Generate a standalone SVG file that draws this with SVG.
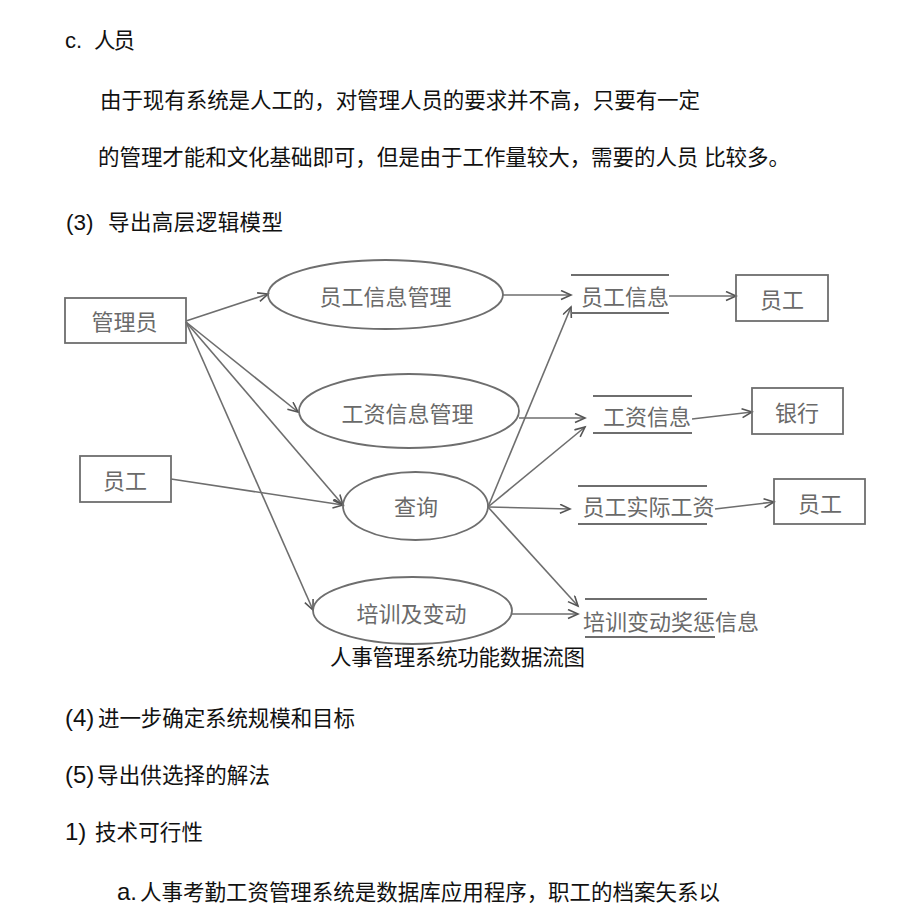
<svg xmlns="http://www.w3.org/2000/svg" width="920" height="920" viewBox="0 0 920 920">
<style>
.body{font-family:"Liberation Sans","Noto Sans CJK SC",sans-serif;font-size:21.5px;fill:#111;}
.lat{font-family:"Liberation Sans",sans-serif;font-size:24px;fill:#111;}
.lbl{font-family:"Noto Sans CJK SC","Noto Sans CJK JP",sans-serif;font-size:22px;fill:#6a6a6a;text-anchor:middle;dominant-baseline:central;}
.shape{fill:none;stroke:#6e6e6e;stroke-width:1.8;}
.store{stroke:#6e6e6e;stroke-width:1.8;}
.conn{fill:none;stroke:#6e6e6e;stroke-width:1.6;}
</style>
<defs>
<marker id="arr" markerUnits="userSpaceOnUse" markerWidth="14" markerHeight="12" refX="11" refY="5" orient="auto">
<path d="M1,0.5 L11,5 L1,9.5" fill="none" stroke="#555" stroke-width="1.6"/>
</marker>
</defs>
<rect width="920" height="920" fill="#fff"/>
<g id="text-body">
<text class="lat" x="65" y="48" style="font-size:22px">c.</text>
<text class="body" x="94" y="48" textLength="41">人员</text>
<text class="body" x="100" y="108" textLength="600">由于现有系统是人工的，对管理人员的要求并不高，只要有一定</text>
<text class="body" x="98" y="165" textLength="692">的管理才能和文化基础即可，但是由于工作量较大，需要的人员 比较多。</text>
<text class="lat" x="66" y="230" style="font-size:22.5px">(3)</text>
<text class="body" x="108" y="230" textLength="175">导出高层逻辑模型</text>
<text class="body" x="330" y="665" textLength="255">人事管理系统功能数据流图</text>
<text class="lat" x="65" y="726">(4)</text>
<text class="body" x="98" y="726" textLength="257">进一步确定系统规模和目标</text>
<text class="lat" x="65" y="783">(5)</text>
<text class="body" x="97" y="783" textLength="173">导出供选择的解法</text>
<text class="lat" x="65" y="840">1)</text>
<text class="body" x="95" y="840" textLength="108">技术可行性</text>
<text class="lat" x="117" y="900">a.</text>
<text class="body" x="140" y="900" textLength="580">人事考勤工资管理系统是数据库应用程序，职工的档案矢系以</text>
</g>
<g id="connectors">
<path class="conn" marker-end="url(#arr)" d="M186,321 L268,294"/>
<path class="conn" marker-end="url(#arr)" d="M186,322 L298,412"/>
<path class="conn" marker-end="url(#arr)" d="M186,322 L343,505"/>
<path class="conn" marker-end="url(#arr)" d="M186,322 L313,610"/>
<path class="conn" marker-end="url(#arr)" d="M171,479 L343,505"/>
<path class="conn" marker-end="url(#arr)" d="M503,295 L571,295"/>
<path class="conn" marker-end="url(#arr)" d="M488,507 L571,307"/>
<path class="conn" marker-end="url(#arr)" d="M519,418 L585,418"/>
<path class="conn" marker-end="url(#arr)" d="M488,507 L585,427"/>
<path class="conn" marker-end="url(#arr)" d="M488,507 L570,509"/>
<path class="conn" marker-end="url(#arr)" d="M488,507 L578,606"/>
<path class="conn" marker-end="url(#arr)" d="M512,614 L578,614"/>
<path class="conn" marker-end="url(#arr)" d="M669,296 L736,296"/>
<path class="conn" marker-end="url(#arr)" d="M692,419 L752,412"/>
<path class="conn" marker-end="url(#arr)" d="M715,509 L774,502"/>
</g>
<g id="n-admin"><rect class="shape" x="65" y="298" width="121" height="45"/><text class="lbl" x="124.5" y="320">管理员</text></g>
<g id="n-staff-left"><rect class="shape" x="80" y="456" width="91" height="46"/><text class="lbl" x="125" y="479">员工</text></g>
<g id="p-staffinfo"><ellipse class="shape" cx="385.5" cy="294.5" rx="117.5" ry="34.5"/><text class="lbl" x="385.5" y="295">员工信息管理</text></g>
<g id="p-salary"><ellipse class="shape" cx="409" cy="411" rx="110" ry="37"/><text class="lbl" x="407.5" y="412">工资信息管理</text></g>
<g id="p-query"><ellipse class="shape" cx="415.5" cy="506" rx="72.5" ry="34"/><text class="lbl" x="416" y="505">查询</text></g>
<g id="p-training"><ellipse class="shape" cx="412.5" cy="610.5" rx="99.5" ry="33.5"/><text class="lbl" x="411.5" y="612">培训及变动</text></g>
<g id="d-staffinfo"><line class="store" x1="571" y1="275" x2="669" y2="275"/><line class="store" x1="571" y1="313" x2="669" y2="313"/><text class="lbl" x="625" y="295">员工信息</text></g>
<g id="d-salary"><line class="store" x1="593" y1="396" x2="692" y2="396"/><line class="store" x1="593" y1="433" x2="692" y2="433"/><text class="lbl" x="647" y="415">工资信息</text></g>
<g id="d-realsalary"><line class="store" x1="578" y1="486" x2="707" y2="486"/><line class="store" x1="578" y1="524" x2="707" y2="524"/><text class="lbl" x="648.5" y="505">员工实际工资</text></g>
<g id="d-training"><line class="store" x1="585" y1="599" x2="707" y2="599"/><line class="store" x1="585" y1="637" x2="715" y2="637"/><text class="lbl" x="671" y="620">培训变动奖惩信息</text></g>
<g id="n-staff-r1"><rect class="shape" x="736" y="275" width="92" height="46"/><text class="lbl" x="782" y="298">员工</text></g>
<g id="n-bank"><rect class="shape" x="752" y="388" width="91" height="46"/><text class="lbl" x="797" y="411">银行</text></g>
<g id="n-staff-r2"><rect class="shape" x="774" y="479" width="91" height="45"/><text class="lbl" x="820" y="502">员工</text></g>
</svg>
